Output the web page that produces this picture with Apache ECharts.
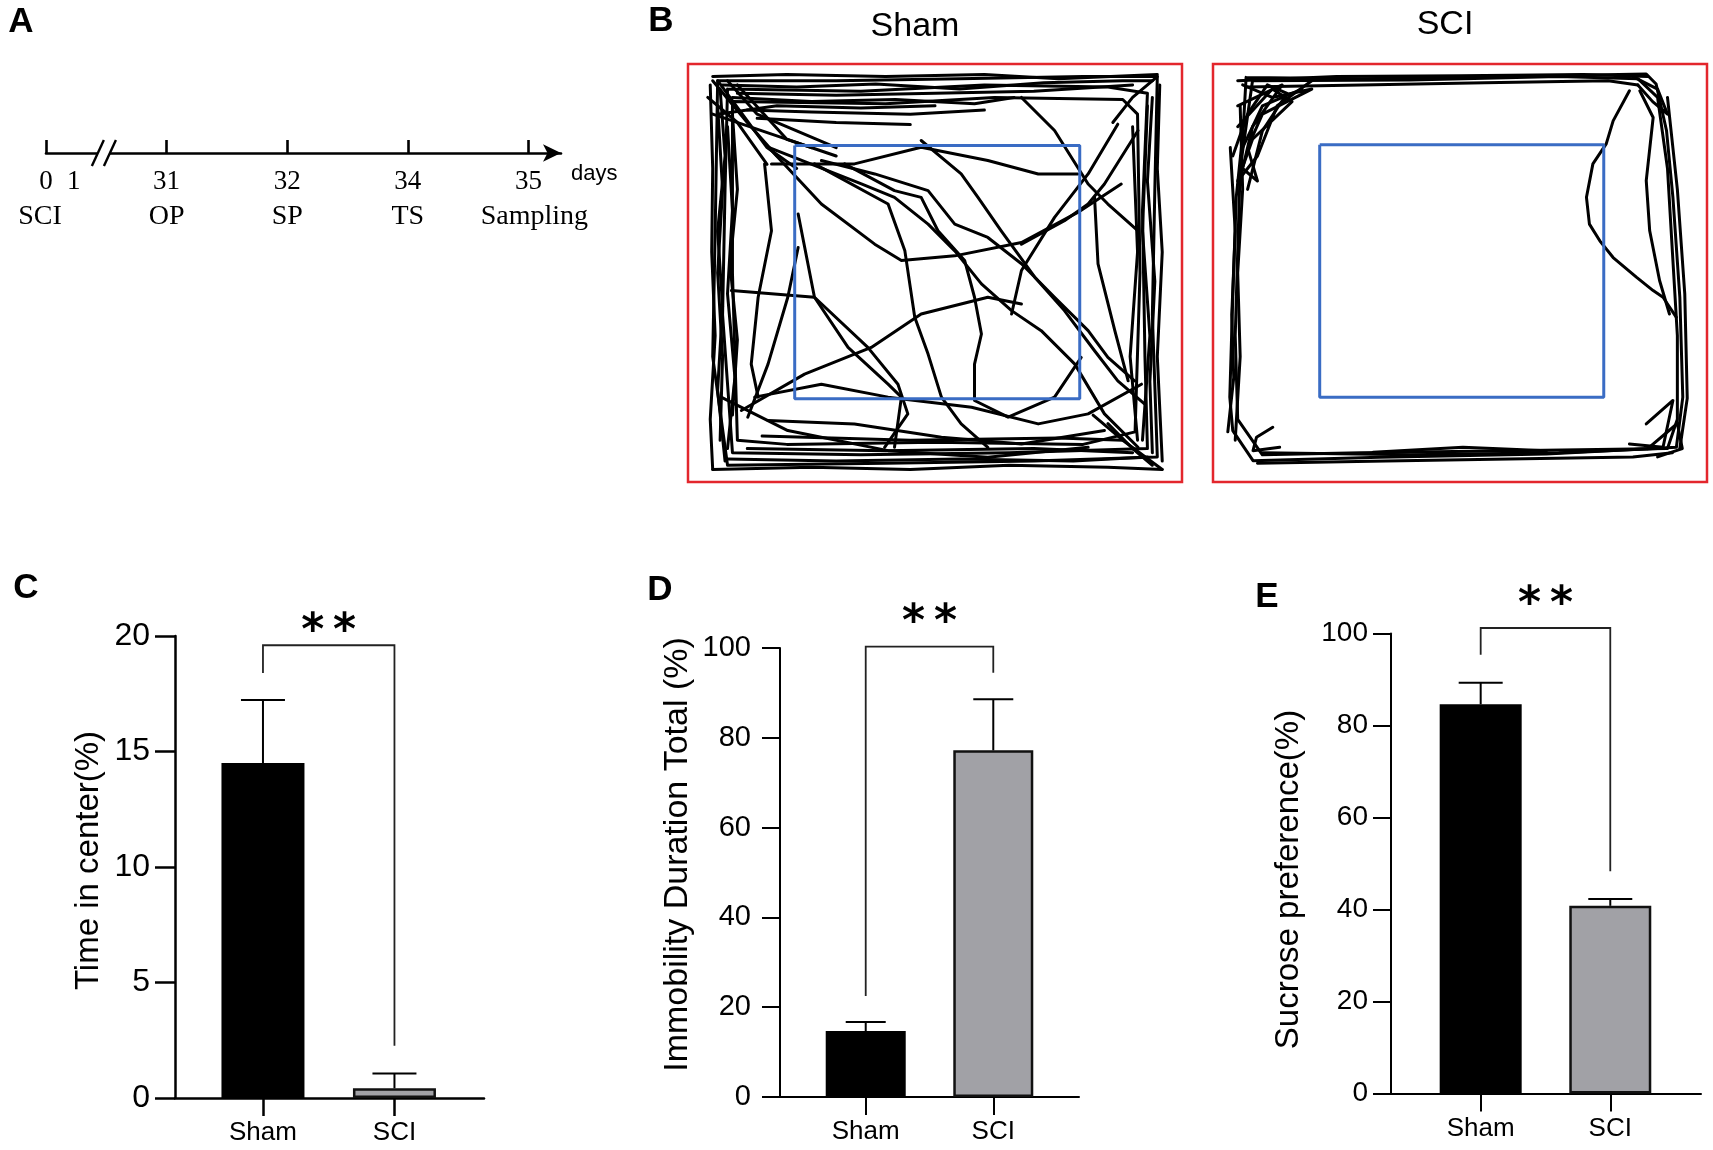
<!DOCTYPE html>
<html><head><meta charset="utf-8">
<script src="https://cdn.jsdelivr.net/npm/echarts@6/dist/echarts.min.js"></script>
<style>html,body{margin:0;padding:0;background:#fff}#chart{width:1713px;height:1150px}</style>
</head><body><div id="chart"></div>
<script>
// ---------------- data ----------------
const categories = ['Sham', 'SCI'];

const timeInCenter = [14.5, 0.42];
const timeInCenterSem = [2.73, 0.64];
const timeInCenterTicks = [0, 5, 10, 15, 20];
const timeInCenterSig = [19.6, 18.4, 2.26, 20.45];   // bracket level, left leg end, right leg end, star level

const immobility = [14.7, 77.2];
const immobilitySem = [2.0, 11.4];
const immobilityTicks = [0, 20, 40, 60, 80, 100];
const immobilitySig = [100.3, 22.5, 94.5, 107.1];

const sucrose = [84.6, 40.8];
const sucroseSem = [4.7, 1.5];
const sucroseTicks = [0, 20, 40, 60, 80, 100];
const sucroseSig = [101.2, 95.4, 48.3, 107.7];

const sigLabel = '**';

const timelineDays = ['0', '1', '31', '32', '34', '35'];
const timelineEvents = ['SCI', '', 'OP', 'SP', 'TS', 'Sampling'];
const timelineUnit = 'days';
const timelineBreak = [0.43, 0.53];

const arenaTitles = ['Sham', 'SCI'];
const shamCentre = [21.6, 19.5, 79.3, 80.1];
const sciCentre = [21.6, 19.3, 79.1, 79.7];

const shamPaths = [
  [[6,4],[30,4],[55,3.5],[80,3],[95,3],[94.5,30],[94,60],[95,94],[70,95],[40,95.5],[8,96],[5,70],[5.5,40],[6,4]],
  [[8,6],[35,6.5],[60,5],[85,5.5],[93,7],[92,35],[92.5,70],[93,92],[65,93],[35,93.5],[9,93],[7,60],[7.5,30],[8,6]],
  [[9,9],[40,9.5],[62,8],[88,8.5],[91,12],[91.5,50],[90.5,88],[80,91],[50,90.5],[20,91],[10,90],[9,50],[9,9]],
  [[10,7],[30,7.5],[50,7],[70,6.5],[90,5]],
  [[12,11],[25,11.5],[45,12],[60,11]],
  [[14,13],[30,14],[45,14.5]],
  [[6,10],[7,30],[6,50],[7,70],[6.5,90]],
  [[8,15],[9,35],[8,55],[9.5,75],[8,92]],
  [[93,10],[92,40],[93.5,65],[92,90]],
  [[90,15],[91,45],[89.5,70],[91,90]],
  [[12,92],[40,92.5],[70,92],[90,93]],
  [[15,89],[45,90],[75,89.5],[88,90]],
  [[5,3],[20,2.5],[40,3],[60,2.5],[75,3.5],[95,2.5]],
  [[7,5],[22,5.5],[38,4.8],[55,6],[72,4.5],[88,4],[94,4]],
  [[9,8],[25,9],[42,8.5],[58,9.5],[66,8]],
  [[6,12],[18,10],[35,10.5],[50,10]],
  [[4.5,5],[5,25],[4.8,45],[5.5,65],[4.5,85],[5,97]],
  [[6.5,6],[7.5,22],[6,40],[7,58],[6,78],[7.5,95]],
  [[9,12],[10,30],[8.5,48],[10,66],[9,84]],
  [[95.5,5],[95,25],[96,45],[95,70],[96,95]],
  [[94,8],[93,28],[94.5,52],[93.5,76],[94,93]],
  [[5,97],[25,96.5],[45,97],[65,96],[85,96.5],[96,97]],
  [[8,94.5],[30,95],[55,94.5],[78,95],[93,94]],
  [[6,4],[16,20],[22,25]],
  [[10,5],[20,18],[30,22]],
  [[5,12],[15,16],[25,20]],
  [[5,4],[12,14],[18,22]],
  [[8,4],[14,12],[22,16],[30,20]],
  [[4,8],[10,14],[16,24]],
  [[96,97],[88,90],[82,84]],
  [[94,96],[90,92],[85,86]],
  [[95,3],[90,8],[86,14]],
  [[16.9,20.7],[27,33.5],[37.8,43.1],[43.2,47],[54,45.9],[67.5,42.7],[78.9,35.5],[87.7,28.7]],
  [[25.6,23.9],[40.5,33.5],[43.9,44.7],[45.9,60.6],[48.6,69.4],[51.3,79.7],[55.3,86.1],[60.7,91.7]],
  [[31.7,23.9],[41.8,30.3],[47.2,31.9],[50.6,39.9],[56,47],[58,55.8],[59.4,64.6],[58,71.8],[58,80.5],[64.8,84.5],[74.2,79.7],[79.6,70.2]],
  [[16.2,19.9],[35.1,28.7],[41.8,31.9],[48.6,38.3],[54,44.7],[59.4,52.6],[65.5,59],[71.5,63.8],[78.3,71.8],[84.3,83.7],[91.1,91.7]],
  [[27,23.1],[37.8,26.3],[48.6,30.3],[54,38.3],[60.7,41.5],[67.5,47.8],[74.2,55.8],[81,63.8],[85,70.2],[90.4,75.8]],
  [[47.2,18.3],[55.3,26.3],[58.7,31.9],[63.4,39.9],[70.2,51],[76.2,59],[82.3,68.6],[87,75.8],[92.4,81.3]],
  [[67.5,8],[74.2,15.9],[81,28.7],[85,33.5],[91.1,39.9]],
  [[16.9,23.9],[33.7,23.9],[47.2,19.9],[60.7,23.1],[70.9,26.3],[78.9,26.3]],
  [[10.8,82.9],[23.6,74.2],[37.1,67.8],[47.2,59.8],[60.7,55.8],[67.5,57.4]],
  [[8.8,54.2],[25.6,55.8],[36.4,67.8],[42.5,76.6],[44.5,83.7],[39.8,91.7]],
  [[87,14.4],[81,26.3],[74.2,36.7],[67.5,49.4],[65.5,59.8]],
  [[91.1,15.9],[84.3,28.7],[81,33.5],[76.2,37.5],[67.5,43.1]],
  [[13.5,79.7],[27,76.6],[40.5,79.7],[57.4,82.1],[70.9,86.1],[81,83.7],[91.8,76.6]],
  [[16.2,85.3],[33.7,86.1],[51.3,89.3],[67.5,90.9],[84.3,87.7]],
  [[6.7,79.7],[20.2,87.7],[40.5,92.5],[60.7,94.1],[81,91.7]],
  [[15.5,23.9],[16.9,39.9],[14.2,55.8],[12.8,71.8],[14.2,79.7]],
  [[22.3,43.9],[20.2,55.8],[16.2,71.8],[12.1,84.5]],
  [[22.3,35.9],[25.6,55.8],[32.4,67.8],[40.5,76.6],[43.2,79.7],[41.8,91.7]],
  [[82.3,31.9],[83,47.8],[86.4,63.8],[89.1,75.8]]
];

const sciPaths = [
  [[6.7,3.2],[30,3.5],[60,3],[87.7,2.4],[89.7,4.8],[91.8,15.9],[93.1,31.9],[94.5,55.8],[95.1,79.7],[93.8,91.7],[67.5,93.3],[33.7,94.1],[8.1,94.9],[4,87.7],[3.4,79.7],[4,55.8],[4.7,31.9],[6.1,15.9],[6.7,3.2]],
  [[8,4],[40,3.8],[70,3],[86,3.5],[90,8],[92,25],[93,45],[94,65],[94,85],[92,92],[60,92.5],[30,93],[10,93.5],[5,85],[4.5,65],[5,45],[5.5,25],[8,4]],
  [[5,4],[25,3],[50,2.8],[75,2.5],[88,3]],
  [[7,5.5],[30,5],[55,4.5],[80,4],[86,5]],
  [[3.5,20],[4.5,40],[3.8,60],[4.2,75],[3,88]],
  [[5.5,10],[6,30],[5,50],[5.5,70],[4.5,90]],
  [[9,95.5],[35,95],[60,94.5],[85,94],[93,93]],
  [[10,93],[40,93.5],[70,93],[90,92]],
  [[92,8],[94,30],[95.5,55],[96,80],[94.5,92]],
  [[6,5],[12,8],[20,6],[10,12],[7,20],[9,28],[6,25],[8,15],[14,5],[5,10]],
  [[5,15],[12,6],[16,9],[8,18],[5,28],[9,22],[13,10],[20,4]],
  [[4,22],[7,12],[11,5],[15,7],[10,16],[7,30]],
  [[6,20],[10,10],[18,6]],
  [[85,3],[90,6],[92,12],[89,9],[86,5]],
  [[84.3,6.4],[81,13.6],[79.6,19.1],[76.9,23.9],[75.6,31.9],[76.2,38.3],[78.3,42.3],[81,46.3],[85.7,51],[89.1,54.2],[91.1,55.8],[93.8,60.6]],
  [[86.4,6.4],[89.1,12.8],[87.7,27.9],[88.4,39.9],[90.4,51.8],[92.4,59.8]],
  [[12.1,86.9],[8.8,89.3],[8.1,92.5],[13.5,91.7]],
  [[87.7,86.1],[93.1,80.5],[91.1,91.7],[84.3,90.9]],
  [[88,92],[94,86],[95,92],[90,94]],
  [[32.4,92.9],[50.6,91.7],[67.5,92.5]]
];

// ---------------- helpers ----------------
const SANS = '"Liberation Sans", Arial, sans-serif';
const SERIF = '"Liberation Serif", "Times New Roman", serif';

function zone(r) { return [[r[0], r[1]], [r[2], r[1]], [r[2], r[3]], [r[0], r[3]], [r[0], r[1]]]; }

function barXAxis(gi, min, max, lw) {
  const idx = categories.map((c, i) => i);
  return {
    gridIndex: gi, type: 'value', min: min, max: max,
    axisLine: { show: true, onZero: false, lineStyle: { color: '#000', width: lw } },
    axisTick: { show: true, customValues: idx, length: 18, lineStyle: { color: '#000', width: lw } },
    axisLabel: { show: true, customValues: idx, formatter: v => categories[Math.round(v)] || '',
      fontSize: 26, fontFamily: SANS, color: '#000', margin: 22 },
    splitLine: { show: false }
  };
}
function barYAxis(gi, ticks, name, o) {
  return {
    gridIndex: gi, type: 'value', min: ticks[0], max: ticks[ticks.length - 1], interval: ticks[1] - ticks[0],
    axisLine: { show: true, onZero: false, lineStyle: { color: '#000', width: o.lw } },
    axisTick: { show: true, length: o.tick, lineStyle: { color: '#000', width: o.lw } },
    axisLabel: { fontSize: o.fs, fontFamily: SANS, color: '#000', margin: o.margin },
    splitLine: { show: false },
    name: name, nameLocation: 'middle', nameRotate: 90, nameGap: o.gap,
    nameTextStyle: { fontSize: o.nfs, fontFamily: SANS, color: '#000', padding: o.pad }
  };
}
function barSeries(ai, values, bw) {
  return {
    type: 'bar', xAxisIndex: ai, yAxisIndex: ai, barWidth: bw, silent: true,
    data: values.map((v, i) => ({
      value: [i, v],
      itemStyle: i === 0 ? { color: '#000', borderColor: '#000', borderWidth: 2 }
                         : { color: '#a1a1a6', borderColor: '#111', borderWidth: 2.5 }
    }))
  };
}
function errorSeries(ai, values, sems, capHalf) {
  return {
    type: 'custom', xAxisIndex: ai, yAxisIndex: ai, silent: true, z: 4,
    data: values.map((v, i) => [i, v, sems[i]]),
    renderItem: function (params, api) {
      const x = api.value(0), m = api.value(1), e = api.value(2);
      const p0 = api.coord([x, m]), p1 = api.coord([x, m + e]);
      return { type: 'group', children: [
        { type: 'line', shape: { x1: p0[0], y1: p0[1], x2: p1[0], y2: p1[1] }, style: { stroke: '#000', lineWidth: 2 } },
        { type: 'line', shape: { x1: p1[0] - capHalf, y1: p1[1], x2: p1[0] + capHalf, y2: p1[1] }, style: { stroke: '#000', lineWidth: 2 } }
      ]};
    }
  };
}
function sigSeries(ai, sig) {
  return {
    type: 'custom', xAxisIndex: ai, yAxisIndex: ai, silent: true, z: 4,
    data: [[0, 1, sig[0], sig[1], sig[2], sig[3]]],
    renderItem: function (params, api) {
      const a = api.value(0), b = api.value(1), top = api.value(2), l = api.value(3), r = api.value(4), s = api.value(5);
      const pts = [api.coord([a, l]), api.coord([a, top]), api.coord([b, top]), api.coord([b, r])];
      const st = api.coord([(a + b) / 2, s]);
      return { type: 'group', children: [
        { type: 'polyline', shape: { points: pts }, style: { stroke: '#222', lineWidth: 1.8, fill: null } },
        { type: 'text', style: { text: sigLabel.split('').join('\u2009'), x: st[0], y: st[1] + 7, align: 'center', verticalAlign: 'middle',
          font: 'bold 44px "DejaVu Sans", sans-serif', fill: '#000' } }
      ]};
    }
  };
}

// timeline slot for each label (day 1 sits just after day 0, before the break)
const timelineSlots = timelineDays.map((d, i) => i === 0 ? 0 : (i === 1 ? 0.23 : i - 1));

function letter(t, x, y) {
  return { type: 'text', x: x, y: y, style: { text: t, font: 'bold 35px ' + SANS, fill: '#000', align: 'center', verticalAlign: 'middle' } };
}

const option = {
  animation: false,
  backgroundColor: '#fff',
  grid: [
    { left: 46, top: 120, width: 515, height: 33, outerBoundsMode: 'none' },
    { left: 688, top: 64, width: 494, height: 418, show: true, borderColor: '#e3262c', borderWidth: 2.5, backgroundColor: 'transparent', outerBoundsMode: 'none' },
    { left: 1213, top: 64, width: 494, height: 418, show: true, borderColor: '#e3262c', borderWidth: 2.5, backgroundColor: 'transparent', outerBoundsMode: 'none' },
    { left: 175, top: 636, width: 309, height: 462, outerBoundsMode: 'none' },
    { left: 780, top: 648, width: 299, height: 449, outerBoundsMode: 'none' },
    { left: 1391, top: 633.5, width: 310, height: 460, outerBoundsMode: 'none' }
  ],
  xAxis: [
    { gridIndex: 0, type: 'value', min: 0, max: 4.27,
      axisLine: { show: true, onZero: false, symbol: ['none', 'arrow'], symbolSize: [13, 18], lineStyle: { color: '#000', width: 2.6 } },
      axisTick: { show: true, inside: true, length: 13, customValues: [0, 1, 2, 3, 4], lineStyle: { color: '#000', width: 2.6 } },
      axisLabel: { show: false }, splitLine: { show: false },
      name: timelineUnit, nameLocation: 'end', nameGap: 10,
      nameTextStyle: { fontSize: 22, fontFamily: SANS, color: '#000', verticalAlign: 'top', padding: [10, 0, 0, 0] } },
    { gridIndex: 1, type: 'value', min: 0, max: 100, show: false },
    { gridIndex: 2, type: 'value', min: 0, max: 100, show: false },
    barXAxis(3, -0.669, 1.681, 2.5),
    barXAxis(4, -0.672, 1.672, 2),
    barXAxis(5, -0.692, 1.70, 2)
  ],
  yAxis: [
    { gridIndex: 0, type: 'value', min: 0, max: 1, show: false },
    { gridIndex: 1, type: 'value', min: 0, max: 100, inverse: true, show: false },
    { gridIndex: 2, type: 'value', min: 0, max: 100, inverse: true, show: false },
    barYAxis(3, timeInCenterTicks, 'Time in center(%)', { lw: 2.5, tick: 20, fs: 32, margin: 25, gap: 70, nfs: 33, pad: [0, 0, 0, 13] }),
    barYAxis(4, immobilityTicks, 'Immobility Duration Total (%)', { lw: 2, tick: 18, fs: 29, margin: 29, gap: 85, nfs: 34, pad: [0, 0, 0, 36] }),
    barYAxis(5, sucroseTicks, 'Sucrose preference(%)', { lw: 2, tick: 18, fs: 28, margin: 23, gap: 86, nfs: 33, pad: [0, 32, 0, 0] })
  ],
  graphic: [
    letter('A', 21, 22), letter('B', 661, 21), letter('C', 26, 588), letter('D', 660, 590), letter('E', 1267, 597),
    { type: 'text', x: 915, y: 27, style: { text: arenaTitles[0], font: '34px ' + SANS, fill: '#000', align: 'center', verticalAlign: 'middle' } },
    { type: 'text', x: 1445, y: 25, style: { text: arenaTitles[1], font: '34px ' + SANS, fill: '#000', align: 'center', verticalAlign: 'middle' } }
  ],
  series: [
    // timeline labels
    { type: 'custom', xAxisIndex: 0, yAxisIndex: 0, silent: true,
      data: timelineDays.map((d, i) => [timelineSlots[i], 0]),
      renderItem: function (params, api) {
        const i = params.dataIndex;
        const p = api.coord([api.value(0), 0]);
        const ch = [{ type: 'text', style: { text: timelineDays[i], x: p[0], y: p[1] + 29, align: 'center', verticalAlign: 'middle', font: '27px ' + SERIF, fill: '#000' } }];
        if (timelineEvents[i]) ch.push({ type: 'text', style: { text: timelineEvents[i], x: p[0] + (i === 0 ? -6 : (i === timelineDays.length - 1 ? 6 : 0)), y: p[1] + 64, align: 'center', verticalAlign: 'middle', font: '28px ' + SERIF, fill: '#000' } });
        return { type: 'group', children: ch };
      } },
    // timeline break
    { type: 'custom', xAxisIndex: 0, yAxisIndex: 0, silent: true, z: 5,
      data: [[timelineBreak[0], timelineBreak[1]]],
      renderItem: function (params, api) {
        const a = api.coord([api.value(0), 0]), b = api.coord([api.value(1), 0]);
        return { type: 'group', children: [
          { type: 'rect', shape: { x: a[0], y: a[1] - 4, width: b[0] - a[0], height: 8 }, style: { fill: '#fff' } },
          { type: 'line', shape: { x1: a[0] - 6, y1: a[1] + 13, x2: a[0] + 6, y2: a[1] - 13 }, style: { stroke: '#000', lineWidth: 2.4 } },
          { type: 'line', shape: { x1: b[0] - 6, y1: b[1] + 13, x2: b[0] + 6, y2: b[1] - 13 }, style: { stroke: '#000', lineWidth: 2.4 } }
        ]};
      } },
    // arenas
    { type: 'lines', coordinateSystem: 'cartesian2d', xAxisIndex: 1, yAxisIndex: 1, polyline: true, silent: true, z: 3,
      data: shamPaths.map(c => ({ coords: c })), lineStyle: { color: '#000', width: 3, opacity: 1, cap: 'round', join: 'round' } },
    { type: 'line', xAxisIndex: 1, yAxisIndex: 1, data: zone(shamCentre), symbol: 'none', silent: true, z: 5,
      lineStyle: { color: '#3a6cc4', width: 3 } },
    { type: 'lines', coordinateSystem: 'cartesian2d', xAxisIndex: 2, yAxisIndex: 2, polyline: true, silent: true, z: 3,
      data: sciPaths.map(c => ({ coords: c })), lineStyle: { color: '#000', width: 3, opacity: 1, cap: 'round', join: 'round' } },
    { type: 'line', xAxisIndex: 2, yAxisIndex: 2, data: zone(sciCentre), symbol: 'none', silent: true, z: 5,
      lineStyle: { color: '#3a6cc4', width: 3 } },
    // C
    barSeries(3, timeInCenter, 83),
    errorSeries(3, timeInCenter, timeInCenterSem, 22),
    sigSeries(3, timeInCenterSig),
    // D
    barSeries(4, immobility, 80),
    errorSeries(4, immobility, immobilitySem, 20),
    sigSeries(4, immobilitySig),
    // E
    barSeries(5, sucrose, 82),
    errorSeries(5, sucrose, sucroseSem, 22),
    sigSeries(5, sucroseSig)
  ]
};

const chart = echarts.init(document.getElementById('chart'), null, { renderer: 'canvas', width: 1713, height: 1150 });
chart.setOption(option);
</script>
</body></html>
